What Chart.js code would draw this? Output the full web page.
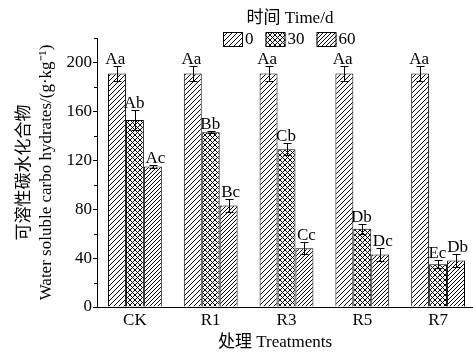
<!DOCTYPE html>
<html>
<head>
<meta charset="utf-8">
<script src="https://cdn.jsdelivr.net/npm/chart.js@4.4.0/dist/chart.umd.min.js"></script>
<style>
  html, body { margin: 0; padding: 0; background: #fff; overflow: hidden; }
  #wrap { width: 480px; height: 352px; }
</style>
</head>
<body>
<div id="wrap"><canvas id="wscChart" width="480" height="352"></canvas></div>
<script>
// treatments and sampling days
const categories = ['CK', 'R1', 'R3', 'R5', 'R7'];
const seriesNames = ['0', '30', '60'];

// water soluble carbohydrates, g/kg
const day0 = [191, 191, 191, 191, 191];
const day0Err = [6, 6, 6, 6, 6];
const day30 = [153, 143, 129, 64, 35];
const day30Err = [8, 1, 5, 4, 3.5];
const day60 = [115, 83, 48, 43, 38];
const day60Err = [1.5, 5, 5, 5, 5];

// significance letters
const day0Letters = ['Aa', 'Aa', 'Aa', 'Aa', 'Aa'];
const day30Letters = ['Ab', 'Bb', 'Cb', 'Db', 'Ec'];
const day60Letters = ['Ac', 'Bc', 'Cc', 'Dc', 'Db'];

const yMajorTicks = [0, 40, 80, 120, 160, 200];
const yMinorTicks = [20, 60, 100, 140, 180, 220];

const FONT = "'Liberation Serif', 'Noto Sans CJK SC', serif";
const FS = 17;

// hatch fills
function hatch(size, cross) {
  const c = document.createElement('canvas');
  c.width = size; c.height = size;
  const g = c.getContext('2d');
  g.fillStyle = '#fff';
  g.fillRect(0, 0, size, size);
  g.strokeStyle = '#000';
  g.lineWidth = 1;
  g.beginPath();
  g.moveTo(0, size); g.lineTo(size, 0);
  g.moveTo(-1, 1); g.lineTo(1, -1);
  g.moveTo(size - 1, size + 1); g.lineTo(size + 1, size - 1);
  if (cross) {
    g.moveTo(0, 0); g.lineTo(size, size);
    g.moveTo(-1, size - 1); g.lineTo(1, size + 1);
    g.moveTo(size - 1, -1); g.lineTo(size + 1, 1);
  }
  g.stroke();
  return g.createPattern(c, 'repeat');
}
const fills = [hatch(5, false), hatch(5, true), hatch(4, false)];
const errs = [day0Err, day30Err, day60Err];
const letters = [day0Letters, day30Letters, day60Letters];

const extras = {
  id: 'extras',
  afterDatasetsDraw(chart) {
    const ctx = chart.ctx;
    const y = chart.scales.y;
    const x = chart.scales.x;
    ctx.save();
    ctx.strokeStyle = '#000';
    ctx.fillStyle = '#000';
    ctx.lineWidth = 1;

    // error bars
    const tops = [];
    chart.data.datasets.forEach((ds, i) => {
      const meta = chart.getDatasetMeta(i);
      tops.push([]);
      meta.data.forEach((bar, j) => {
        const v = ds.data[j], e = errs[i][j];
        const bx = Math.round(bar.x) + 0.5;
        const yt = Math.round(y.getPixelForValue(v + e)) + 0.5;
        const yb = Math.round(y.getPixelForValue(v - e)) + 0.5;
        ctx.beginPath();
        ctx.moveTo(bx, yt); ctx.lineTo(bx, yb);
        ctx.moveTo(bx - 4, yt); ctx.lineTo(bx + 4, yt);
        ctx.moveTo(bx - 4, yb); ctx.lineTo(bx + 4, yb);
        ctx.stroke();
        tops[i].push({ x: bar.x, y: yt });
      });
    });

    // letters above the bars
    ctx.font = FS + 'px ' + FONT;
    ctx.textAlign = 'center';
    ctx.textBaseline = 'alphabetic';
    categories.forEach((c, j) => {
      const items = tops.map((t, i) => {
        const w = ctx.measureText(letters[i][j]).width;
        return { text: letters[i][j], x: t[j].x, y: t[j].y - 3, w: w };
      });
      for (let k = 1; k < items.length; k++) {
        const a = items[k - 1], b = items[k];
        const over = (a.x + a.w / 2) - (b.x - b.w / 2) + 1;
        if (over > 0) { a.x -= over / 2; b.x += over / 2; }
      }
      items.forEach(it => ctx.fillText(it.text, it.x, it.y));
    });

    // minor ticks on y axis
    ctx.beginPath();
    yMinorTicks.forEach(v => {
      const py = Math.round(y.getPixelForValue(v)) + 0.5;
      ctx.moveTo(x.left - 3, py); ctx.lineTo(x.left, py);
    });
    ctx.stroke();

    // x axis title
    ctx.textBaseline = 'middle';
    ctx.fillText('处理 Treatments', 275, 343);

    // legend
    ctx.fillText('时间 Time/d', 290, 19);
    let lx = 223;
    ctx.textAlign = 'left';
    seriesNames.forEach((n, i) => {
      ctx.fillStyle = fills[i];
      ctx.fillRect(lx, 32, 20, 15);
      ctx.strokeRect(lx + 0.5, 32.5, 19, 14);
      ctx.fillStyle = '#000';
      ctx.fillText(n, lx + 22, 40);
      lx += 22 + ctx.measureText(n).width + 12;
    });
    ctx.restore();
  }
};

Chart.defaults.font.family = FONT;
Chart.defaults.font.size = FS;
Chart.defaults.color = '#000';

new Chart(document.getElementById('wscChart'), {
  type: 'bar',
  data: {
    labels: categories,
    datasets: [day0, day30, day60].map((d, i) => ({
      label: seriesNames[i],
      data: d,
      backgroundColor: fills[i],
      borderColor: '#000',
      borderWidth: 1,
      categoryPercentage: 0.71,
      barPercentage: 1
    }))
  },
  options: {
    responsive: false,
    animation: false,
    layout: { padding: { top: 38, right: 4, left: 0, bottom: 0 } },
    plugins: {
      legend: { display: false },
      tooltip: { enabled: false }
    },
    scales: {
      x: {
        grid: { display: false, drawTicks: false },
        border: { display: true, color: '#000', width: 1 },
        ticks: { padding: 3, font: { size: FS } },
        afterFit: s => { s.height = 45; }
      },
      y: {
        min: 0,
        max: 220,
        grid: {
          drawOnChartArea: false,
          tickLength: 4,
          tickColor: c => yMajorTicks.includes(c.tick.value) ? '#000' : 'rgba(0,0,0,0)'
        },
        border: { display: true, color: '#000', width: 1 },
        ticks: {
          stepSize: 20,
          padding: 1,
          font: { size: FS },
          callback: v => yMajorTicks.includes(v) ? v : ''
        },
        title: {
          display: true,
          text: ['可溶性碳水化合物', 'Water soluble carbo hydrates/(g·kg⁻¹)'],
          font: { size: FS, lineHeight: 1.3 },
          padding: { top: 13, bottom: 0 }
        },
        afterFit: s => { s.width = 97; }
      }
    }
  },
  plugins: [extras]
});
</script>
</body>
</html>
